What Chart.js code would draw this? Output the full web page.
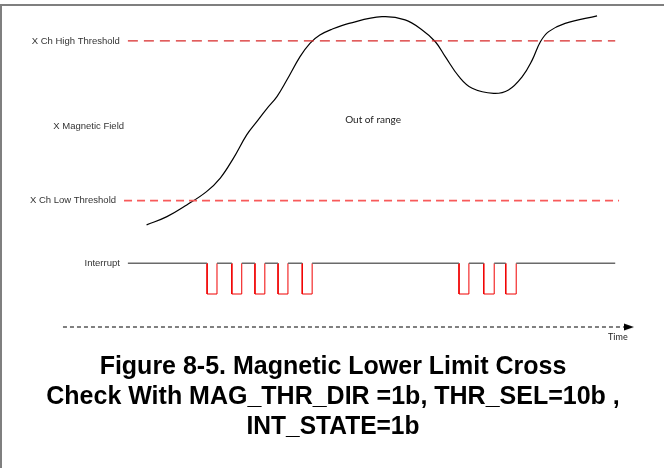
<!DOCTYPE html>
<html>
<head>
<meta charset="utf-8">
<script src="https://cdn.jsdelivr.net/npm/chart.js@4/dist/chart.umd.min.js"></script>
<style>
  body { margin: 0; background: #fff; }
  #wrap { position: relative; width: 664px; height: 468px; }
</style>
</head>
<body>
<div id="wrap"><canvas id="magnetic-chart" width="664" height="468"></canvas></div>
<script>
// X magnetic field curve (time units, field units)
const fieldTime = [15.2, 18.9, 22.5, 26.1, 28.6, 31.0, 33.4, 35.2, 37.0, 38.9, 40.7, 43.1, 44.9, 46.7, 48.9, 52.0, 58.0, 62.2, 65.3, 67.7, 69.5, 72.0, 74.4, 78.3, 81.0, 83.5, 85.3, 86.8, 88.3, 91.3, 97.1];
const fieldValue = [10.9, 14.0, 18.4, 23.4, 28.5, 36.0, 44.7, 49.6, 54.4, 59.1, 65.3, 74.1, 79.1, 82.2, 84.4, 86.6, 89.1, 87.9, 84.1, 79.7, 74.1, 66.6, 62.2, 60.3, 61.6, 66.6, 72.8, 79.7, 83.5, 86.6, 89.4];

// Threshold levels and their extent in time
const highThreshold = 80;
const lowThreshold = 20;
const highSpan = [11.8, 100.4];
const lowSpan = [11.1, 101.1];

// Interrupt line: logic high = 1, low = 0
const intSpan = [11.8, 100.4];
const intFall = [26.2, 30.7, 34.9, 39.1, 43.5, 72.0, 76.5, 80.5];
const intRise = [28.0, 32.5, 36.7, 40.9, 45.3, 73.8, 78.4, 82.4];

// Time axis arrow
const timeSpan = [0, 102.9];
const timeLevel = -1.075;

const titleLines = [
  "Figure 8-5. Magnetic Lower Limit Cross",
  "Check With MAG_THR_DIR =1b, THR_SEL=10b ,",
  "INT_STATE=1b",
];

function buildInterruptHigh() {
  const pts = [];
  let from = intSpan[0];
  intFall.forEach((f, i) => {
    pts.push({ x: from, y: 1 }, { x: f, y: 1 }, { x: f, y: null });
    from = intRise[i];
  });
  pts.push({ x: from, y: 1 }, { x: intSpan[1], y: 1 });
  return pts;
}

function buildInterruptPulses() {
  const pts = [];
  intFall.forEach((f, i) => {
    const r = intRise[i];
    pts.push({ x: f, y: 1 }, { x: f, y: 0 }, { x: r, y: 0 }, { x: r, y: 1 }, { x: r, y: null });
  });
  return pts;
}

// Small arrowhead image used as the end point of the time axis
function makeArrowHead() {
  const c = document.createElement("canvas");
  c.width = 10;
  c.height = 8;
  const g = c.getContext("2d");
  g.fillStyle = "#000";
  g.beginPath();
  g.moveTo(0, 0.5);
  g.lineTo(10, 4);
  g.lineTo(0, 7.5);
  g.closePath();
  g.fill();
  return c;
}

// Background, frame, labels and figure caption
const diagramText = {
  id: "diagramText",
  beforeDraw(chart) {
    const ctx = chart.ctx;
    ctx.save();
    ctx.fillStyle = "#fff";
    ctx.fillRect(0, 0, chart.width, chart.height);
    ctx.fillStyle = "#7f7f7f";
    ctx.fillRect(0, 4, chart.width, 2);
    ctx.fillRect(0, 4, 2, chart.height - 4);
    ctx.restore();
  },
  afterDraw(chart, args, opts) {
    const ctx = chart.ctx;
    const xs = chart.scales.x;
    ctx.save();
    ctx.textBaseline = "middle";
    opts.labels.forEach((l) => {
      const ys = chart.scales[l.axis];
      ctx.font = l.font;
      ctx.fillStyle = l.color;
      ctx.textAlign = l.align;
      ctx.fillText(l.text, xs.getPixelForValue(l.x) + (l.dx || 0), ys.getPixelForValue(l.y));
    });
    ctx.textBaseline = "alphabetic";
    ctx.textAlign = "center";
    ctx.fillStyle = "#000";
    ctx.font = "bold 25px 'Liberation Sans', Arial, sans-serif";
    titleLines.forEach((t, i) => {
      ctx.fillText(t, 333, 374 + i * 30, opts.titleWidths[i]);
    });
    ctx.restore();
  },
};

function initializeChart() {
  const ctx = document.getElementById("magnetic-chart").getContext("2d");
  const arrow = makeArrowHead();
  const smallFont = "9.5px 'Liberation Sans', Arial, sans-serif";
  const calibriLike = "10px Lato, 'Open Sans', sans-serif";

  new Chart(ctx, {
    type: "scatter",
    data: {
      datasets: [
        {
          label: "High threshold",
          data: highSpan.map((x) => ({ x, y: highThreshold })),
          borderColor: "rgb(215, 40, 40)",
          borderWidth: 1.2,
          borderDash: [10, 6],
        },
        {
          label: "Low threshold",
          data: lowSpan.map((x) => ({ x, y: lowThreshold })),
          borderColor: "rgb(248, 90, 90)",
          borderWidth: 1.6,
          borderDash: [8, 5],
        },
        {
          label: "X Magnetic Field",
          data: fieldTime.map((x, i) => ({ x, y: fieldValue[i] })),
          borderColor: "#000",
          borderWidth: 1.2,
          tension: 0.4,
        },
        {
          label: "Interrupt",
          data: buildInterruptHigh(),
          yAxisID: "y2",
          borderColor: "#6a6a6a",
          borderWidth: 1.5,
        },
        {
          label: "Interrupt pulses",
          data: buildInterruptPulses(),
          yAxisID: "y2",
          borderColor: "rgb(240, 0, 0)",
          borderWidth: 1,
        },
        {
          label: "Time",
          data: timeSpan.map((x) => ({ x, y: timeLevel })),
          yAxisID: "y2",
          borderColor: "#000",
          borderWidth: 1,
          borderDash: [4, 3],
          pointStyle: arrow,
          pointRadius: (c) => (c.dataIndex === timeSpan.length - 1 ? 5 : 0),
        },
      ],
    },
    options: {
      responsive: false,
      animation: false,
      devicePixelRatio: 1,
      layout: { padding: 0, autoPadding: false },
      elements: {
        point: { radius: 0, hoverRadius: 0 },
        line: { tension: 0, fill: false, borderCapStyle: "butt" },
      },
      datasets: { scatter: { showLine: true, spanGaps: false } },
      scales: {
        x: { type: "linear", min: -11.45, max: 109.27, display: false },
        y: { type: "linear", min: -80.43, max: 95.38, display: false },
        y2: { type: "linear", min: -5.668, max: 9.577, display: false },
      },
      plugins: {
        legend: { display: false },
        tooltip: { enabled: false },
        diagramText: {
          titleWidths: [491, 597, 173],
          labels: [
            { text: "X Ch High Threshold", x: highSpan[0], dx: -8, y: highThreshold, axis: "y", align: "right", font: smallFont, color: "#333" },
            { text: "X Magnetic Field", x: 11.1, y: 48.0, axis: "y", align: "right", font: smallFont, color: "#333" },
            { text: "X Ch Low Threshold", x: lowSpan[0], dx: -8, y: lowThreshold, axis: "y", align: "right", font: smallFont, color: "#333" },
            { text: "Interrupt", x: intSpan[0], dx: -8, y: 1, axis: "y2", align: "right", font: smallFont, color: "#333" },
            { text: "Out of range", x: 51.3, y: 50.3, axis: "y", align: "left", font: calibriLike, color: "#222" },
            { text: "Time", x: 99.1, y: -1.4, axis: "y2", align: "left", font: "9px Lato, 'Open Sans', sans-serif", color: "#222" },
          ],
        },
      },
    },
    plugins: [diagramText],
  });
}

document.addEventListener("DOMContentLoaded", initializeChart);
</script>
</body>
</html>
